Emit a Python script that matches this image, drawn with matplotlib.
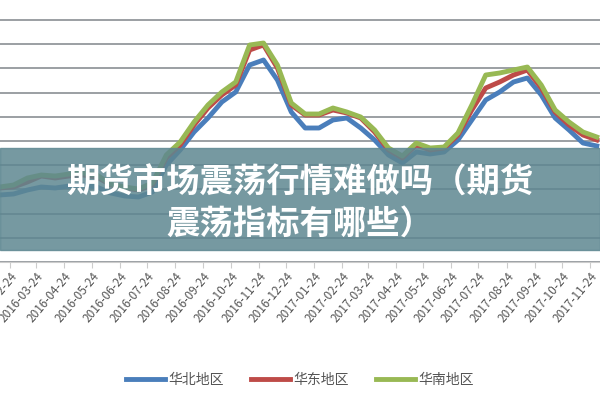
import matplotlib
matplotlib.use("Agg")
import matplotlib.pyplot as plt
import matplotlib.patches as mpatches
import pandas as pd
import numpy as np

plt.rcParams['font.family'] = ['Noto Sans CJK SC', 'DejaVu Sans']

dates = [pd.Timestamp("2016-01-13") + pd.Timedelta(days=15.3 * i) for i in range(46)]

north_px = [195,195,195,194,190,187,188,186,185,187,193,196,197,192,165,150,132,118,102,92,65,60,80,112,128,128,120,118,128,140,155,163,152,154,152,140,120,100,92,82,78,95,118,130,143,146]
east_px = [188,188,188,187,182,176,178,176,175,177,185,188,190,185,158,145,125,108,95,85,50,45,68,105,115,115,110,113,118,132,150,158,145,150,148,135,110,88,82,75,70,88,112,125,135,140]
south_px = [187,187,187,185,178,175,176,174,173,175,184,187,189,183,155,142,122,105,92,82,45,43,65,103,114,114,108,112,117,130,148,156,143,148,147,133,105,75,73,70,67,85,110,122,132,137]
north = [262 - v for v in north_px]
east = [262 - v for v in east_px]
south = [262 - v for v in south_px]
series_names = ["华北地区", "华东地区", "华南地区"]
colors = ["#4a7ebb", "#be4b48", "#98b954"]
tick_labels = [f"{y}-{m:02d}-24" for y in (2016, 2017) for m in range(1, 13)]

fig = plt.figure(figsize=(6, 4), dpi=100)
ax = fig.add_axes([0, 0.345, 1, 0.655])
for vals, c, n in zip([north, east, south], colors, series_names):
    ax.plot(dates, vals, color=c, lw=3.5, label=n)

ticks = [pd.Timestamp(s) for s in tick_labels]
ax.set_xticks(ticks)
ax.set_xticklabels(tick_labels, rotation=50, ha="right", fontsize=8.5,
                   color="#555555", rotation_mode="anchor", style="italic")
ax.tick_params(axis="x", length=4, color="#cccccc", pad=2)
ax.set_xlim(pd.Timestamp("2016-02-13"), pd.Timestamp("2017-12-05"))
ax.set_ylim(0, 262)
ax.set_yticks(np.arange(0, 262, 24.2))
ax.set_yticklabels([])
ax.tick_params(axis="y", length=0)
ax.grid(axis="y", color="#8a8f94", lw=1.2)
for s in ax.spines.values():
    s.set_visible(False)
ax.spines["bottom"].set_visible(True)
ax.spines["bottom"].set_color("#cccccc")

fig.patches.append(mpatches.Rectangle((0, 1 - 250 / 400), 1, 102 / 400,
                   transform=fig.transFigure, color="#5e8791", alpha=0.85, zorder=5))
fig.text(0.5, 1 - 183 / 400, "期货市场震荡行情难做吗（期货", ha="center", va="center",
         color="white", fontsize=24, fontweight="bold", zorder=6)
fig.text(0.5, 1 - 225 / 400, "震荡指标有哪些）", ha="center", va="center",
         color="white", fontsize=24, fontweight="bold", zorder=6)

leg = fig.legend(loc="center", bbox_to_anchor=(0.5, 1 - 380 / 400), ncol=3, frameon=False,
                 fontsize=10, handlelength=2.8, columnspacing=2, handletextpad=0.2,
                 labelcolor="#555555")
fig.savefig("out.png")
